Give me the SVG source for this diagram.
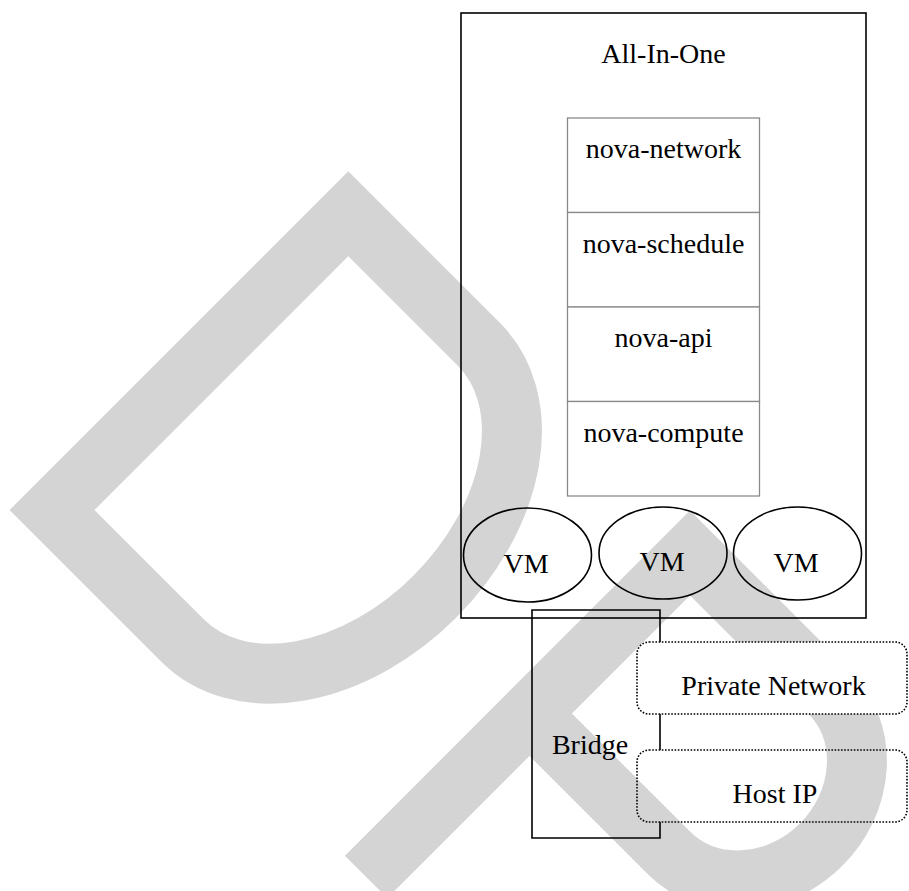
<svg xmlns="http://www.w3.org/2000/svg" width="909" height="891" viewBox="0 0 909 891">
<style>
.wm{fill:none;stroke:#d4d4d4;stroke-width:60;stroke-linejoin:miter;stroke-miterlimit:10}
.box{fill:none;stroke:#000;stroke-width:1.6}
.cell{fill:#fff;stroke:#8a8a8a;stroke-width:1.3}
.vm{fill:none;stroke:#000;stroke-width:1.6}
.dot{stroke:#000;stroke-width:1.6;stroke-dasharray:1.6 1.6}
text{font-family:"Liberation Serif","Times New Roman",serif;font-size:28px;fill:#000;text-anchor:middle}
</style>
<g id="watermark">
<path class="wm" transform="translate(52,510) rotate(-45)" d="M0,185 L0,0 L419,0 L419,185 A209.5,147 0 0 1 0,185 Z"/>
<path class="wm" transform="translate(690,553) rotate(-45)" d="M-458,0 L0,0 L0,197 A113.5,102 0 0 1 -227,197 L-227,0"/>
</g>
<g id="all-in-one">
<rect class="box" x="461" y="13" width="405" height="605"/>
<text x="663.5" y="63">All-In-One</text>
</g>
<g id="nova-network">
<rect class="cell" x="567.5" y="118" width="192" height="94.5"/>
<text x="663.5" y="158">nova-network</text>
</g>
<g id="nova-schedule">
<rect class="cell" x="567.5" y="212.5" width="192" height="94.5"/>
<text x="663.5" y="253">nova-schedule</text>
</g>
<g id="nova-api">
<rect class="cell" x="567.5" y="307" width="192" height="94.5"/>
<text x="663.5" y="347">nova-api</text>
</g>
<g id="nova-compute">
<rect class="cell" x="567.5" y="401.5" width="192" height="94.5"/>
<text x="663.5" y="442">nova-compute</text>
</g>
<g id="vm1">
<ellipse class="vm" cx="527.5" cy="555" rx="64" ry="47"/>
<text x="526" y="573">VM</text>
</g>
<g id="vm2">
<ellipse class="vm" cx="663" cy="553" rx="64" ry="46"/>
<text x="662" y="571">VM</text>
</g>
<g id="vm3">
<ellipse class="vm" cx="797.5" cy="553.5" rx="64" ry="46.5"/>
<text x="796" y="572">VM</text>
</g>
<g id="bridge">
<path class="box" d="M660,642 V610 H532 V838 H660 V822 M660,714 V750"/>
<text x="590" y="754">Bridge</text>
</g>
<g id="private-network">
<rect class="dot" fill="#fff" x="637" y="642" width="270" height="72" rx="12" ry="12"/>
<text x="773.5" y="695">Private Network</text>
</g>
<g id="host-ip">
<rect class="dot" fill="none" x="637" y="750" width="270" height="72" rx="12" ry="12"/>
<text x="775" y="803">Host IP</text>
</g>
<g id="connectors"></g>
</svg>
